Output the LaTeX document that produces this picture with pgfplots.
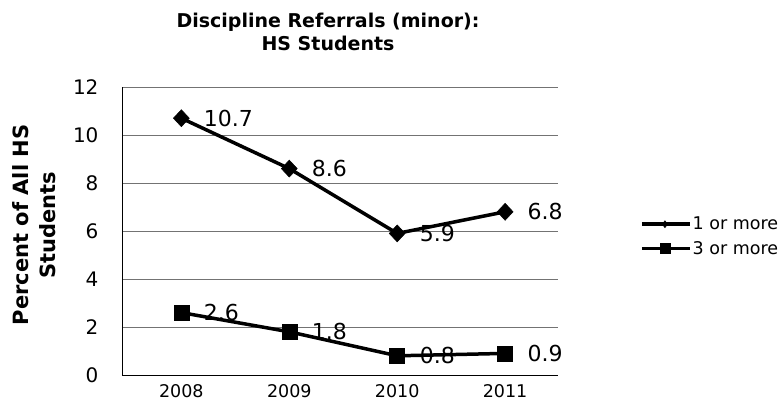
\documentclass[border=0pt]{standalone}
\usepackage{fontspec}
\setmainfont{DejaVu Sans}
\usepackage{pgfplots}
\pgfplotsset{compat=1.18}
\begin{document}
\begin{tikzpicture}[x=1pt,y=1pt]
\useasboundingbox (0,0) rectangle (783,402);
\node[font=\bfseries\fontsize{19}{23}\selectfont, align=center] at (328,370) {Discipline Referrals (minor):\\HS Students};
\node[font=\bfseries\fontsize{21}{27}\selectfont, align=center, rotate=90] at (34,177) {Percent of All HS\\Students};
\begin{axis}[
  at={(122pt,27pt)}, anchor=south west,
  scale only axis, width=436pt, height=288pt,
  xmin=-0.55, xmax=3.49, ymin=0, ymax=12,
  xtick={0,1,2,3}, xticklabels={2008,2009,2010,2011},
  ytick={0,2,...,12},
  axis x line*=bottom, axis y line*=left,
  axis line style={line width=1pt},
  major tick length=0pt,
  ymajorgrids, grid style={black!55, line width=0.7pt},
  /pgf/number format/assume math mode=true,
  yticklabel style={font=\fontsize{20}{20}\selectfont, xshift=-20pt},
  xticklabel style={font=\fontsize{17.5}{17.5}\selectfont, yshift=-6pt},
  nodes near coords={\pgfmathprintnumber[fixed,fixed zerofill,precision=1]{\pgfplotspointmeta}},
  every node near coord/.append style={anchor=west, xshift=19pt, font=\fontsize{22}{22}\selectfont, black},
  legend style={at={(1.188,0.481)}, anchor=west, draw=none, fill=none, font=\fontsize{17.5}{17.5}\selectfont, row sep=8pt, inner sep=0pt, nodes={inner sep=1pt}},
  legend cell align=left,
  legend image code/.code={\draw[#1] (0pt,0pt) -- (48pt,0pt); \draw[#1] plot coordinates {(23pt,0pt)};},
  clip=false,
]
\addlegendimage{black, line width=3.5pt, mark=diamond*, mark size=3.5pt, mark options={line width=0.5pt}}
\addlegendentry{1 or more}
\addlegendimage{black, line width=3.5pt, mark=square*, mark size=5pt, mark options={line width=0.5pt}}
\addlegendentry{3 or more}
\addplot[forget plot, black, line width=3.5pt, mark=diamond*, mark size=8.5pt, mark options={xscale=1.25, line width=0.5pt}] coordinates {(0,10.7) (1,8.6) (2,5.9) (3,6.8)};
\addplot[forget plot, black, line width=3.5pt, mark=square*, mark size=7.5pt, mark options={line width=0.5pt}] coordinates {(0,2.6) (1,1.8) (2,0.8) (3,0.9)};
\end{axis}
\end{tikzpicture}
\end{document}
